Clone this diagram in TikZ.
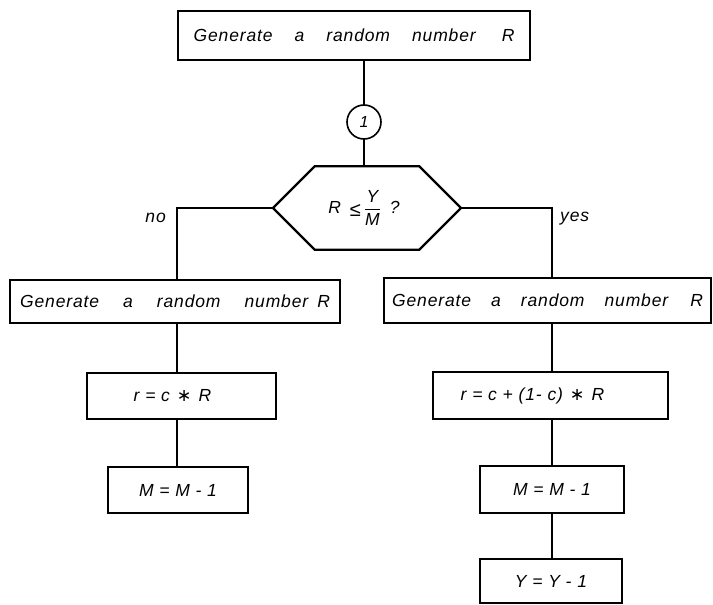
\documentclass[tikz,border=0pt]{standalone}
\usepackage{fontspec}
\setmainfont{Liberation Sans}
\newfontfamily\hw[LetterSpace=5]{Liberation Sans}
\newfontfamily\dv{DejaVu Sans}
\usetikzlibrary{shapes.misc}
\newcommand\wg{\hspace{22pt}}
\newcommand\mystar{\hspace{7pt}{\dv\upshape ∗}\hspace{7pt}}
\begin{document}
\begin{tikzpicture}[x=1pt,y=-1pt,
  box/.style={draw, line width=2.2pt, inner sep=0pt, outer sep=0pt,
    font=\fontsize{17.5}{20}\selectfont\hw\itshape},
  conn/.style={line width=1.2pt},
  lbl/.style={font=\fontsize{17.5}{20}\selectfont\hw\itshape, inner sep=0pt}]
\useasboundingbox (0,0) rectangle (713,605);

\node[box, minimum width=352pt, minimum height=49pt] (top) at (354,35.5)
  {Generate\wg a\wg random\wg number\hspace{26pt}R};
\node[draw, circle, line width=1.6pt, minimum size=34pt, inner sep=0pt, outer sep=0pt,
  font=\fontsize{16}{18}\selectfont\hw\itshape] (c1) at (364,122) {1};
\node[box, chamfered rectangle, chamfered rectangle xsep=24pt, chamfered rectangle ysep=23.9pt,
  minimum width=188pt, minimum height=48pt] (hex) at (367,208)
  {\hspace{-6pt}R\hspace{9pt}\raisebox{-3pt}{\fontsize{20}{20}\selectfont ≤}\hspace{3pt}$\displaystyle\frac{\hbox{\hw\itshape Y}}{\hbox{\hw\itshape M}}$\hspace{9pt}?};

\node[box, minimum width=330pt, minimum height=43pt] (lg) at (175,301.5)
  {Generate\hspace{24pt}a\hspace{24pt}random\hspace{24pt}number\hspace{9pt}R};
\node[box, minimum width=327pt, minimum height=45pt] (rg) at (547.5,300.5)
  {Generate\hspace{20pt}a\hspace{20pt}random\hspace{20pt}number\wg R};

\node[box, minimum width=189pt, minimum height=46pt] (lr) at (181.5,396)
  {\hspace{-18pt}r = c\mystar R};
\node[box, minimum width=235pt, minimum height=47pt] (rr) at (550.5,395.5)
  {\hspace{-36pt}r = c + (1- c)\mystar R};

\node[box, minimum width=140pt, minimum height=46pt] (lm) at (178,490) {M = M - 1};
\node[box, minimum width=144pt, minimum height=47pt] (rm) at (552,489.5) {M = M - 1};
\node[box, minimum width=142pt, minimum height=44pt] (ry) at (551,581) {Y = Y - 1};

\node[lbl, anchor=base east] (no) at (166,222) {no};
\node[lbl, anchor=base west] (yes) at (560,221) {yes};

\coordinate (la) at (177,208);
\coordinate (ra) at (552,208);

\draw[conn] (top.south -| c1) -- (c1.north);
\draw[conn] (c1.south) -- (c1.south |- hex.north);
\draw[conn] (hex.west) -- (la) -- (la |- lg.north);
\draw[conn] (hex.east) -- (ra) -- (ra |- rg.north);
\draw[conn] (lg.south -| la) -- (lr.north -| la);
\draw[conn] (lr.south -| la) -- (lm.north -| la);
\draw[conn] (rg.south -| ra) -- (rr.north -| ra);
\draw[conn] (rr.south -| ra) -- (rm.north -| ra);
\draw[conn] (rm.south -| ra) -- (ry.north -| ra);
\end{tikzpicture}
\end{document}
